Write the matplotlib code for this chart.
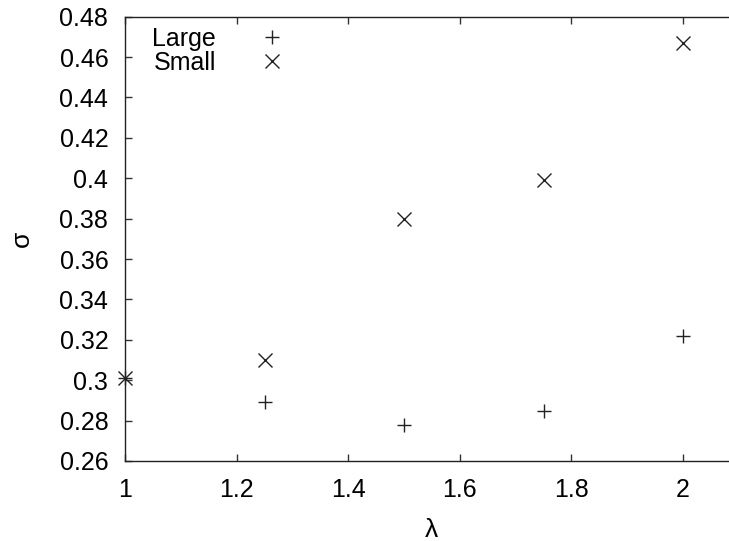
import matplotlib
matplotlib.use("Agg")
import matplotlib.pyplot as plt

lam = [1.0, 1.25, 1.5, 1.75, 2.0]
large = [0.301, 0.289, 0.278, 0.285, 0.322]
small = [0.301, 0.310, 0.380, 0.399, 0.467]
xticks = [1.0, 1.2, 1.4, 1.6, 1.8, 2.0]
xticklabels = ["1", "1.2", "1.4", "1.6", "1.8", "2"]
yticks = [0.26, 0.28, 0.30, 0.32, 0.34, 0.36, 0.38, 0.40, 0.42, 0.44, 0.46, 0.48]
yticklabels = ["0.26", "0.28", "0.3", "0.32", "0.34", "0.36", "0.38", "0.4", "0.42", "0.44", "0.46", "0.48"]

plt.rcParams['font.family'] = ['Liberation Sans', 'DejaVu Sans']

fig = plt.figure(figsize=(7.29, 5.41), dpi=100)
W, H = 729, 541
ax = fig.add_axes([125 / W, 1 - 461 / H, 1.1 * 558 / W, (461 - 16.7) / H])

ax.plot(lam, large, linestyle='none', marker='+', markersize=10, markeredgewidth=1.0,
        color='#222222', label='Large', clip_on=False)
ax.plot(lam, small, linestyle='none', marker='x', markersize=10, markeredgewidth=1.0,
        color='#222222', label='Small', clip_on=False)

ax.set_xlim(1.0, 2.1)
ax.set_ylim(0.26, 0.48)
ax.set_xticks(xticks)
ax.set_xticklabels(xticklabels)
ax.set_yticks(yticks)
ax.set_yticklabels(yticklabels)

ax.tick_params(direction='in', length=5, width=1, labelsize=18, pad=12,
               top=True, right=False, colors='#333333', labelcolor='black')
for s in ['left', 'bottom', 'top']:
    ax.spines[s].set_linewidth(1.0)
    ax.spines[s].set_color('#222222')
ax.spines['right'].set_visible(False)

ax.set_xlabel('λ', fontsize=19)
ax.set_ylabel('σ', fontsize=19)
ax.xaxis.set_label_coords(0.5, (461 - 530) / 444.3, transform=ax.transAxes)
ax.yaxis.set_label_coords((22 - 125) / (1.1 * 558), 0.5, transform=ax.transAxes)
ax.xaxis.label.set_verticalalignment('center')
ax.yaxis.label.set_verticalalignment('center')

leg = ax.legend(loc='upper left', bbox_to_anchor=(17 / (1.1 * 558), 1.0), frameon=False,
                markerfirst=False, fontsize=18, handlelength=1.2,
                handletextpad=1.64, labelspacing=0.0, borderaxespad=0.0, borderpad=0.4)

fig.savefig('out.png', dpi=100)
